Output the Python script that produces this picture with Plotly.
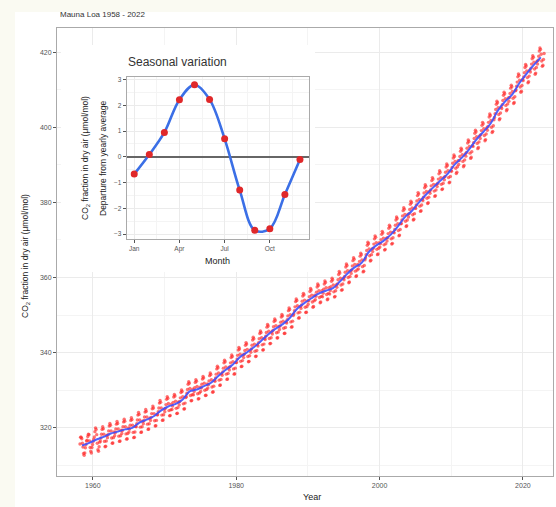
import plotly.graph_objects as go

# ---------------- data ----------------
# Monthly mean CO2 (ppm), Mauna Loa, starting March 1958
start_year = 1958
start_month = 3
co2_1958_1969 = [
    315.7, 317.5, 317.5, 317.1, 315.9, 314.9, 313.2, 312.7, 313.3, 314.7,
    315.6, 316.5, 316.7, 317.7, 318.3, 318.2, 316.5, 314.8, 313.8, 313.3, 314.8, 315.6,
    316.4, 317.0, 317.6, 319.0, 320.0, 319.6, 318.2, 315.9, 314.2, 313.8, 315.0, 316.2,
    316.5, 317.3, 318.3, 319.6, 320.3, 319.8, 318.3, 316.4, 315.0, 315.1, 316.5, 318.0,
    317.4, 318.2, 319.2, 320.5, 321.2, 320.7, 319.2, 317.3, 315.9, 316.0, 317.4, 318.9,
    317.9, 318.7, 319.7, 321.0, 321.7, 321.2, 319.7, 317.8, 316.4, 316.5, 317.9, 319.4,
    318.5, 319.3, 320.3, 321.6, 322.3, 321.8, 320.3, 318.4, 317.0, 317.1, 318.5, 320.0,
    318.9, 319.7, 320.7, 322.0, 322.7, 322.2, 320.7, 318.8, 317.4, 317.5, 318.9, 320.4,
    320.3, 321.1, 322.1, 323.4, 324.1, 323.6, 322.1, 320.2, 318.8, 318.9, 320.3, 321.8,
    321.1, 321.9, 322.9, 324.2, 324.9, 324.4, 322.9, 321.0, 319.6, 319.7, 321.1, 322.6,
    322.0, 322.8, 323.8, 325.1, 325.8, 325.3, 323.8, 321.9, 320.5, 320.6, 322.0, 323.5,
    323.5, 324.3, 325.3, 326.6, 327.3, 326.8, 325.3, 323.4, 322.0, 322.1, 323.5, 325.0,
]
co2_1970_1989 = [
    324.3, 325.2, 326.2, 327.6, 328.3, 327.9, 326.5, 324.6, 323.2, 323.3, 324.8, 326.3,
    324.9, 325.8, 326.8, 328.2, 328.9, 328.5, 327.1, 325.2, 323.8, 323.9, 325.4, 326.9,
    326.1, 327.0, 328.0, 329.4, 330.1, 329.7, 328.3, 326.4, 325.0, 325.1, 326.6, 328.1,
    328.3, 329.2, 330.2, 331.6, 332.3, 331.9, 330.5, 328.6, 327.2, 327.3, 328.8, 330.3,
    328.8, 329.7, 330.7, 332.1, 332.8, 332.4, 331.0, 329.1, 327.7, 327.8, 329.3, 330.8,
    329.7, 330.6, 331.6, 333.0, 333.7, 333.3, 331.9, 330.0, 328.6, 328.7, 330.2, 331.7,
    330.6, 331.5, 332.5, 333.9, 334.6, 334.2, 332.8, 330.9, 329.5, 329.6, 331.1, 332.6,
    332.4, 333.3, 334.3, 335.7, 336.4, 336.0, 334.6, 332.7, 331.3, 331.4, 332.9, 334.4,
    334.0, 334.9, 335.9, 337.3, 338.0, 337.6, 336.2, 334.3, 332.9, 333.0, 334.5, 336.0,
    335.4, 336.3, 337.3, 338.7, 339.4, 339.0, 337.6, 335.7, 334.3, 334.4, 335.9, 337.4,
    337.4, 338.3, 339.3, 340.7, 341.4, 341.0, 339.6, 337.7, 336.3, 336.4, 337.9, 339.4,
    338.7, 339.6, 340.6, 342.0, 342.7, 342.3, 340.9, 339.0, 337.6, 337.7, 339.2, 340.7,
    340.1, 341.0, 342.0, 343.4, 344.1, 343.7, 342.3, 340.4, 339.0, 339.1, 340.6, 342.1,
    341.8, 342.7, 343.7, 345.1, 345.8, 345.4, 344.0, 342.1, 340.7, 340.8, 342.3, 343.8,
    343.5, 344.4, 345.4, 346.8, 347.5, 347.1, 345.7, 343.8, 342.4, 342.5, 344.0, 345.5,
    345.0, 345.9, 346.9, 348.3, 349.0, 348.6, 347.2, 345.3, 343.9, 344.0, 345.5, 347.0,
    346.2, 347.1, 348.1, 349.5, 350.2, 349.8, 348.4, 346.5, 345.1, 345.2, 346.7, 348.2,
    347.9, 348.8, 349.8, 351.2, 351.9, 351.5, 350.1, 348.2, 346.8, 346.9, 348.4, 349.9,
    350.3, 351.2, 352.2, 353.6, 354.3, 353.9, 352.5, 350.6, 349.2, 349.3, 350.8, 352.3,
    351.8, 352.7, 353.7, 355.1, 355.8, 355.4, 354.0, 352.1, 350.7, 350.8, 352.3, 353.8,
]
co2_1990_2009 = [
    352.9, 353.8, 354.9, 356.3, 357.1, 356.7, 355.3, 353.5, 352.1, 352.3, 353.8, 355.3,
    354.1, 355.0, 356.1, 357.5, 358.3, 357.9, 356.5, 354.7, 353.3, 353.5, 355.0, 356.5,
    354.9, 355.8, 356.9, 358.3, 359.1, 358.7, 357.3, 355.5, 354.1, 354.3, 355.8, 357.3,
    355.6, 356.5, 357.6, 359.0, 359.8, 359.4, 358.0, 356.2, 354.8, 355.0, 356.5, 358.0,
    357.4, 358.3, 359.4, 360.8, 361.6, 361.2, 359.8, 358.0, 356.6, 356.8, 358.3, 359.8,
    359.4, 360.3, 361.4, 362.8, 363.6, 363.2, 361.8, 360.0, 358.6, 358.8, 360.3, 361.8,
    361.1, 362.0, 363.1, 364.5, 365.3, 364.9, 363.5, 361.7, 360.3, 360.5, 362.0, 363.5,
    362.3, 363.2, 364.3, 365.7, 366.5, 366.1, 364.7, 362.9, 361.5, 361.7, 363.2, 364.7,
    365.2, 366.1, 367.2, 368.6, 369.4, 369.0, 367.6, 365.8, 364.4, 364.6, 366.1, 367.6,
    366.9, 367.8, 368.9, 370.3, 371.1, 370.7, 369.3, 367.5, 366.1, 366.3, 367.8, 369.3,
    368.1, 369.0, 370.1, 371.5, 372.3, 371.9, 370.5, 368.7, 367.3, 367.5, 369.0, 370.5,
    369.7, 370.6, 371.7, 373.1, 373.9, 373.5, 372.1, 370.3, 368.9, 369.1, 370.6, 372.1,
    371.9, 372.8, 373.9, 375.3, 376.1, 375.7, 374.3, 372.5, 371.1, 371.3, 372.8, 374.3,
    374.4, 375.3, 376.4, 377.8, 378.6, 378.2, 376.8, 375.0, 373.6, 373.8, 375.3, 376.8,
    376.1, 377.0, 378.1, 379.5, 380.3, 379.9, 378.5, 376.7, 375.3, 375.5, 377.0, 378.5,
    378.4, 379.3, 380.4, 381.8, 382.6, 382.2, 380.8, 379.0, 377.6, 377.8, 379.3, 380.8,
    380.5, 381.4, 382.5, 383.9, 384.7, 384.3, 382.9, 381.1, 379.7, 379.9, 381.4, 382.9,
    382.4, 383.3, 384.4, 385.8, 386.6, 386.2, 384.8, 383.0, 381.6, 381.8, 383.3, 384.8,
    384.2, 385.1, 386.2, 387.6, 388.4, 388.0, 386.6, 384.8, 383.4, 383.6, 385.1, 386.6,
    386.0, 386.9, 388.0, 389.4, 390.2, 389.8, 388.4, 386.6, 385.2, 385.4, 386.9, 388.4,
]
co2_2010_2022 = [
    388.3, 389.3, 390.4, 391.8, 392.6, 392.2, 390.9, 389.1, 387.7, 388.0, 389.5, 391.1,
    390.1, 391.1, 392.2, 393.6, 394.4, 394.0, 392.7, 390.9, 389.5, 389.8, 391.3, 392.9,
    392.3, 393.3, 394.4, 395.8, 396.6, 396.2, 394.9, 393.1, 391.7, 392.0, 393.5, 395.1,
    394.9, 395.9, 397.0, 398.4, 399.2, 398.8, 397.5, 395.7, 394.3, 394.6, 396.1, 397.7,
    397.0, 398.0, 399.1, 400.5, 401.3, 400.9, 399.6, 397.8, 396.4, 396.7, 398.2, 399.8,
    399.2, 400.2, 401.3, 402.7, 403.5, 403.1, 401.8, 400.0, 398.6, 398.9, 400.4, 402.0,
    402.6, 403.6, 404.7, 406.1, 406.9, 406.5, 405.2, 403.4, 402.0, 402.3, 403.8, 405.4,
    405.0, 406.0, 407.1, 408.5, 409.3, 408.9, 407.6, 405.8, 404.4, 404.7, 406.2, 407.8,
    406.9, 407.9, 409.0, 410.4, 411.2, 410.8, 409.5, 407.7, 406.3, 406.6, 408.1, 409.7,
    409.9, 410.9, 412.0, 413.4, 414.2, 413.8, 412.5, 410.7, 409.3, 409.6, 411.1, 412.7,
    412.4, 413.4, 414.5, 415.9, 416.7, 416.3, 415.0, 413.2, 411.8, 412.1, 413.6, 415.2,
    414.7, 415.7, 416.8, 418.2, 419.0, 418.6, 417.3, 415.5, 414.1, 414.4, 415.9, 417.5,
    416.8, 417.8, 418.9, 420.3, 421.1, 420.7, 419.4, 417.6, 416.2, 416.5, 418.0, 419.6,
]

# Yearly averages (trend line)
trend_years = list(range(1958, 2023))
trend_values = [
    315.3, 316.0, 316.9, 317.6, 318.5, 319.0, 319.6, 320.0, 321.4, 322.2,
    323.1, 324.6, 325.7, 326.3, 327.5, 329.7, 330.2, 331.1, 332.0, 333.8,
    335.4, 336.8, 338.8, 340.1, 341.5, 343.2, 344.9, 346.4, 347.6, 349.3,
    351.7, 353.2, 354.5, 355.7, 356.5, 357.2, 359.0, 361.0, 362.7, 363.9,
    366.8, 368.5, 369.7, 371.3, 373.5, 376.0, 377.7, 380.0, 382.1, 384.0,
    385.8, 387.6, 390.1, 391.9, 394.1, 396.7, 398.8, 401.0, 404.4, 406.8,
    408.7, 411.7, 414.2, 416.5, 418.6,
]

# Seasonal variation (departure from yearly average)
months = [1, 2, 3, 4, 5, 6, 7, 8, 9, 10, 11, 12]
seasonal = [-0.67, 0.09, 0.95, 2.22, 2.80, 2.23, 0.70, -1.29, -2.85, -2.79, -1.46, -0.10]
month_ticks = [1, 4, 7, 10]
month_labels = ["Jan", "Apr", "Jul", "Oct"]

year_ticks = [1960, 1980, 2000, 2020]
co2_ticks = [320, 340, 360, 380, 400, 420]

# ---------------- build ----------------
monthly = co2_1958_1969 + co2_1970_1989 + co2_1990_2009 + co2_2010_2022
dates = [start_year + (start_month - 1 + i + 0.5) / 12.0 for i in range(len(monthly))]
trend_x = [y + 0.5 for y in trend_years]

FONT = "Liberation Sans, Arial, sans-serif"
GRID = "#ebebeb"
MINOR = "#f4f4f4"
TICKC = "#555555"

W, H = 556, 507
L, R, T, B = 57, 3, 28, 31
pw, ph = W - L - R, H - T - B
XR = [1955.0, 2024.2]
YR = [307.2, 426.4]


def px_x(p):
    return (p - L) / pw


def px_y(p):
    return (H - B - p) / ph


def dx(p):  # pixel -> main x data units (for the inset backing box only)
    return XR[0] + px_x(p) * (XR[1] - XR[0])


def dy(p):
    return YR[0] + px_y(p) * (YR[1] - YR[0])


fig = go.Figure()
# white backing box behind the inset (hides main gridlines)
bx0, bx1, by0, by1 = dx(61), dx(315), dy(272), dy(45)
fig.add_trace(go.Scatter(x=[bx0, bx1, bx1, bx0, bx0], y=[by0, by0, by1, by1, by0],
                         mode="lines", fill="toself", fillcolor="white",
                         line=dict(width=0, color="white"), hoverinfo="skip",
                         xaxis="x", yaxis="y"))
fig.add_trace(go.Scatter(x=dates, y=monthly, mode="markers",
                         marker=dict(size=3.4, color="rgba(255,40,40,0.65)", line=dict(width=0)),
                         xaxis="x", yaxis="y", hoverinfo="skip"))
fig.add_trace(go.Scatter(x=trend_x, y=trend_values, mode="lines",
                         line=dict(color="rgba(60,80,255,0.9)", width=2, shape="spline"),
                         xaxis="x", yaxis="y", hoverinfo="skip"))
fig.add_trace(go.Scatter(x=months, y=seasonal, mode="lines",
                         line=dict(color="#3b6fe6", width=2.6, shape="spline", smoothing=1.0),
                         xaxis="x2", yaxis="y2", hoverinfo="skip"))
fig.add_trace(go.Scatter(x=months, y=seasonal, mode="markers",
                         marker=dict(size=7, color="#e0282a"),
                         xaxis="x2", yaxis="y2", hoverinfo="skip"))

fig.update_layout(
    width=W, height=H,
    margin=dict(l=L, r=R, t=T, b=B, autoexpand=False),
    paper_bgcolor="#fafaf2",
    plot_bgcolor="white",
    showlegend=False,
    font=dict(family=FONT, color="#222"),
    xaxis=dict(domain=[0, 1], range=XR, tickvals=year_ticks, automargin=False,
               ticks="outside", ticklen=3, tickcolor=TICKC, tickfont=dict(size=7, color=TICKC),
               showgrid=True, gridcolor=GRID, gridwidth=1,
               minor=dict(dtick=10, tick0=1950, showgrid=True, gridcolor=MINOR, ticks=""),
               showline=True, mirror=True, linecolor="#aaaaaa", linewidth=1, zeroline=False),
    yaxis=dict(domain=[0, 1], range=YR, tickvals=co2_ticks, automargin=False,
               ticks="outside", ticklen=3, tickcolor=TICKC, tickfont=dict(size=7, color=TICKC),
               showgrid=True, gridcolor=GRID, gridwidth=1,
               minor=dict(dtick=10, tick0=310, showgrid=True, gridcolor=MINOR, ticks=""),
               showline=True, mirror=True, linecolor="#aaaaaa", linewidth=1, zeroline=False),
    xaxis2=dict(domain=[px_x(126.7), px_x(309)], anchor="y2", range=[0.5, 12.6], automargin=False,
                tickvals=month_ticks, ticktext=month_labels,
                ticks="outside", ticklen=3, tickcolor=TICKC, tickfont=dict(size=6.5, color=TICKC),
                showgrid=True, gridcolor=GRID,
                minor=dict(tickvals=[2.5, 5.5, 8.5, 11.5], showgrid=True, gridcolor=MINOR, ticks=""),
                showline=True, mirror=True, linecolor="#aaaaaa", linewidth=1, zeroline=False),
    yaxis2=dict(domain=[px_y(239.3), px_y(77)], anchor="x2", range=[-3.2, 3.1], automargin=False,
                dtick=1, tick0=0,
                ticks="outside", ticklen=3, tickcolor=TICKC, tickfont=dict(size=6.5, color=TICKC),
                showgrid=True, gridcolor=GRID,
                minor=dict(dtick=0.5, tick0=0.5, showgrid=True, gridcolor=MINOR, ticks=""),
                showline=True, mirror=True, linecolor="#aaaaaa", linewidth=1,
                zeroline=True, zerolinecolor="#666666", zerolinewidth=2),
    shapes=[
        dict(type="rect", xref="paper", yref="paper", layer="below",
             x0=px_x(15), x1=px_x(W + 2), y0=px_y(H + 2), y1=px_y(12),
             fillcolor="white", line=dict(width=0)),
    ],
    annotations=[
        dict(text="Mauna Loa 1958 - 2022", xref="paper", yref="paper",
             x=px_x(58), y=px_y(15), xanchor="left", yanchor="middle",
             showarrow=False, font=dict(size=8, color="#333")),
        dict(text="Year", xref="paper", yref="paper", x=px_x(312), y=px_y(497),
             xanchor="center", yanchor="middle", showarrow=False, font=dict(size=9, color="#222")),
        dict(text="CO<sub>2</sub> fraction in dry air (μmol/mol)", xref="paper", yref="paper",
             x=px_x(25), y=px_y(256), xanchor="center", yanchor="middle", textangle=-90,
             showarrow=False, font=dict(size=8.5, color="#222")),
        dict(text="Seasonal variation", xref="paper", yref="paper",
             x=px_x(126), y=px_y(62), xanchor="left", yanchor="middle",
             showarrow=False, font=dict(size=12, color="#333")),
        dict(text="Month", xref="paper", yref="paper", x=px_x(217), y=px_y(261),
             xanchor="center", yanchor="middle", showarrow=False, font=dict(size=9, color="#222")),
        dict(text="CO<sub>2</sub> fraction in dry air (μmol/mol)", xref="paper", yref="paper",
             x=px_x(85), y=px_y(158), xanchor="center", yanchor="middle", textangle=-90,
             showarrow=False, font=dict(size=8.5, color="#222")),
        dict(text="Departure from yearly average", xref="paper", yref="paper",
             x=px_x(103), y=px_y(158), xanchor="center", yanchor="middle", textangle=-90,
             showarrow=False, font=dict(size=8.5, color="#222")),
    ],
)

fig.write_html("out.html", config={"responsive": False, "displayModeBar": False},
               post_script="document.body.style.margin='0px';document.body.style.overflow='hidden';")
